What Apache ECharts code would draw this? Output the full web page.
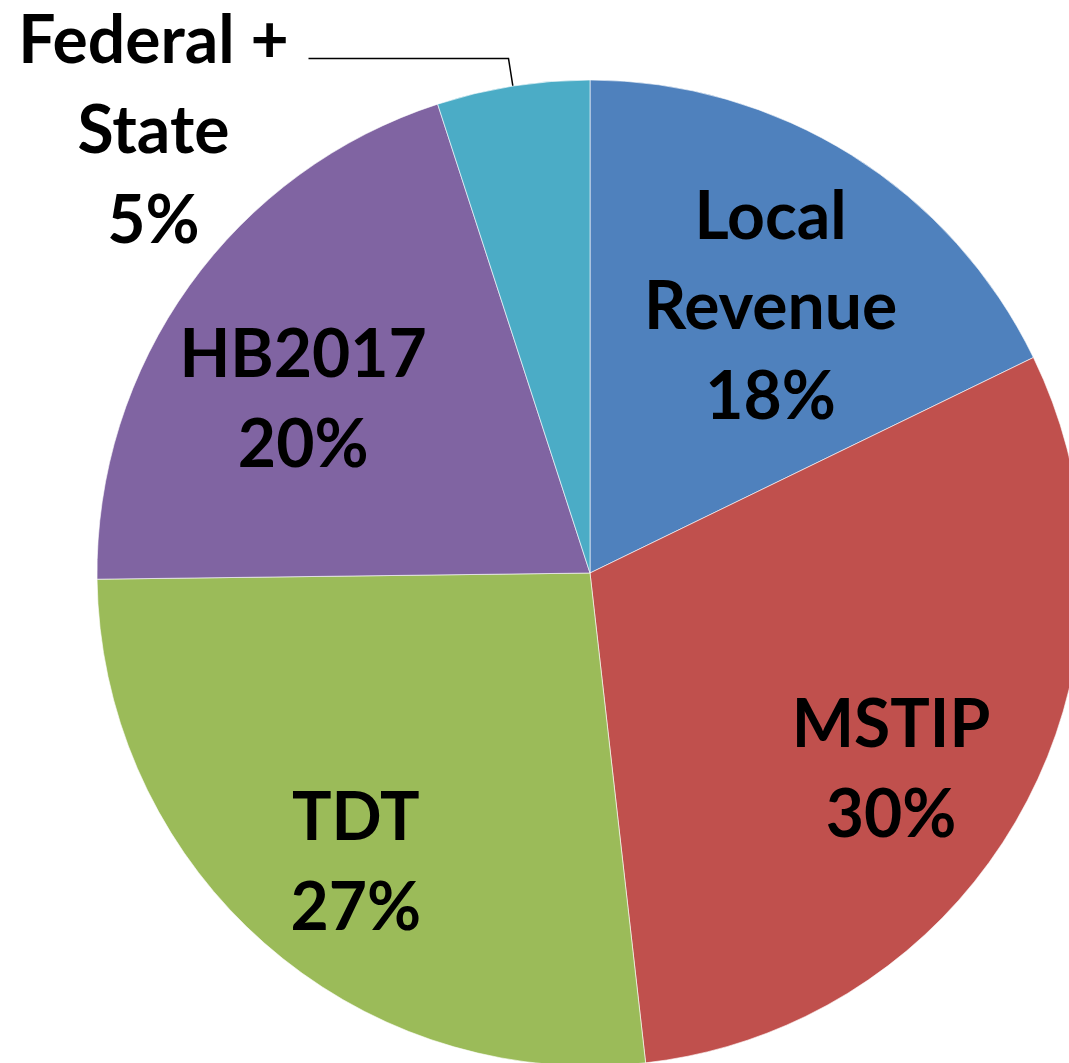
<!DOCTYPE html>
<html>
<head>
<meta charset="utf-8">
<script src="https://cdn.jsdelivr.net/npm/echarts@6/dist/echarts.min.js"></script>
<style>
  html, body { margin: 0; padding: 0; background: #fff; }
  #chart { width: 1069px; height: 1063px; }
</style>
</head>
<body>
<div id="chart"></div>
<script>
// funding sources, clockwise from 12 o'clock
var categories = ['Local Revenue', 'MSTIP', 'TDT', 'HB2017', 'Federal + State'];
var shares = [17.8, 30.4, 26.6, 20.2, 5.0];

var palette = ['#4F81BD', '#C0504D', '#9BBB59', '#8064A2', '#4BACC6'];

// break the name before its last word, then the percent
function labelText(p) {
	var lines = p.name.replace(/ (?=\S+$)/, '\n').split('\n');
	lines.push(p.percent + '%');
	return '{c|' + lines.join('}\n{c|') + '}';
}

var textStyle = {
	fontFamily: 'Lato',
	fontWeight: 'bold',
	fontSize: 66,
	lineHeight: 90,
	color: '#000'
};

function isSmall(v) {
	return v < 10;
}

var mainData = categories.map(function (name, i) {
	var small = isSmall(shares[i]);
	return {
		name: name,
		value: shares[i],
		label: { show: small },
		labelLine: { show: small }
	};
});

var overlayData = categories.map(function (name, i) {
	return {
		name: name,
		value: shares[i],
		label: { show: !isSmall(shares[i]) }
	};
});

var option = {
	animation: false,
	backgroundColor: '#fff',
	color: palette,
	series: [{
			name: 'funding',
			type: 'pie',
			center: [590, 573],
			radius: 493,
			startAngle: 90,
			clockwise: true,
			avoidLabelOverlap: false,
			percentPrecision: 0,
			itemStyle: {
				borderColor: 'rgba(255,255,255,0.6)',
				borderWidth: 1
			},
			label: {
				position: 'outside',
				formatter: labelText,
				padding: [146, 0, 0, 0],
				rich: {
					c: Object.assign({ width: 300, align: 'center' }, textStyle)
				}
			},
			labelLine: {
				length: 28,
				length2: 200,
				lineStyle: { color: '#000', width: 1.5 }
			},
			emphasis: { disabled: true },
			data: mainData
		},
		{
			// transparent ring only used to place the inside labels further out
			name: 'labels',
			type: 'pie',
			center: [590, 573],
			radius: [295, 395],
			startAngle: 90,
			clockwise: true,
			silent: true,
			z: 5,
			percentPrecision: 0,
			itemStyle: { color: 'rgba(0,0,0,0)', borderWidth: 0 },
			label: {
				position: 'inside',
				formatter: labelText,
				color: '#000',
				offset: [-4, 30],
				rich: {
					c: Object.assign({ align: 'center' }, textStyle)
				}
			},
			labelLine: { show: false },
			emphasis: { disabled: true },
			data: overlayData
		}
	]
};

var myChart = echarts.init(document.getElementById('chart'));
myChart.setOption(option);
</script>
</body>
</html>
